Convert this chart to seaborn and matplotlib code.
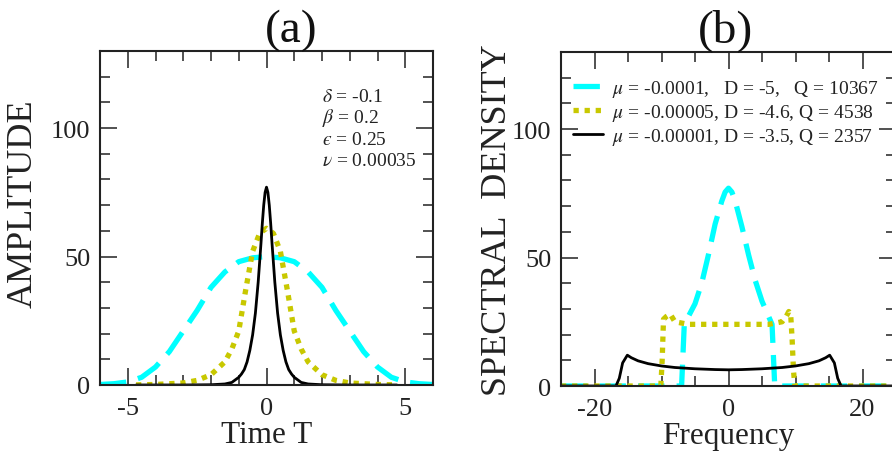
import numpy as np
import pandas as pd
import matplotlib
matplotlib.use("Agg")
import matplotlib.pyplot as plt
import seaborn as sns

# ---------------- data ----------------
# Panel (a): amplitude vs time
t_cyan = [-6, -5.5, -5, -4.5, -4, -3.5, -3, -2.5, -2, -1.5, -1, -0.5, 0,
          0.5, 1, 1.5, 2, 2.5, 3, 3.5, 4, 4.5, 5, 5.5, 6]
a_cyan = [0.2, 0.5, 1.2, 3, 7, 13, 21, 29, 38, 44, 48, 49.5, 50,
          49.5, 48, 44, 38, 29, 21, 13, 7, 3, 1.2, 0.5, 0.2]

t_yel = [-4.7, -4, -3, -2.5, -2, -1.5, -1.25, -1, -0.75, -0.5, -0.25, 0,
         0.25, 0.5, 0.75, 1, 1.25, 1.5, 2, 2.5, 3, 4, 4.7]
a_yel = [0.05, 0.2, 0.8, 1.8, 4, 9, 14, 21, 37, 52, 59, 61,
         59, 52, 37, 21, 14, 9, 4, 1.8, 0.8, 0.2, 0.05]

t_blk = [-4.7, -3, -2, -1.5, -1.25, -1, -0.9, -0.8, -0.7, -0.6, -0.5, -0.4, -0.3,
         -0.2, -0.15, -0.1, -0.05, 0,
         0.05, 0.1, 0.15, 0.2, 0.3, 0.4, 0.5, 0.6, 0.7, 0.8, 0.9, 1, 1.25, 1.5, 2, 3, 4.7]
a_blk = [0, 0, 0.1, 0.4, 1, 3, 4.3, 6, 9, 13.5, 19.5, 28, 40,
         55, 63, 70, 75, 77,
         75, 70, 63, 55, 40, 28, 19.5, 13.5, 9, 6, 4.3, 3, 1, 0.4, 0.1, 0, 0]

# Panel (b): spectral density vs frequency
f_cyan = [-25, -7.0, -6.8, -6.6, -6, -5, -4, -3, -2, -1, -0.5, 0,
          0.5, 1, 2, 3, 4, 5, 6, 6.5, 6.7, 6.9, 25]
s_cyan = [0, 0, 12, 24, 27, 32, 40, 51, 63, 72, 75.5, 77,
          75.5, 72, 62, 51, 41, 33, 27, 24, 12, 0, 0]

f_yel = [-25, -10.1, -9.9, -9.7, -9.3, -8.7, -8, -6, -3, 0,
         3, 6, 8, 8.6, 9.0, 9.3, 9.5, 9.7, 9.9, 25]
s_yel = [0, 0, 10, 26, 27, 28, 25, 24, 24, 24,
         24, 24, 25, 27, 29, 27, 18, 6, 0, 0]

f_blk = [-25, -16.8, -16.3, -15.8, -15.1, -14.5, -13.5, -12, -10, -8, -5, -2, 0,
         2, 5, 8, 10, 12, 13.5, 14.5, 15.1, 15.8, 16.3, 16.8, 25]
s_blk = [0, 0, 3, 9, 12, 11, 9.8, 8.7, 7.8, 7.2, 6.7, 6.4, 6.3,
         6.4, 6.7, 7.2, 7.8, 8.7, 9.8, 11, 12, 9, 3, 0, 0]

legend_labels = [r"$\mu$ = -0.0001,   D = -5,   Q = 10367",
                 r"$\mu$ = -0.00005, D = -4.6, Q = 4538",
                 r"$\mu$ = -0.00001, D = -3.5, Q = 2357"]
params = [r"$\delta$ = -0.1", r"$\beta$ = 0.2", "$\u03f5$ = 0.25", r"$\nu$ = 0.00035"]

# ---------------- style ----------------
sns.set_theme(style="ticks")
plt.rcParams["font.family"] = ["Liberation Serif", "DejaVu Serif"]
plt.rcParams["mathtext.fontset"] = "stix"
plt.rcParams["axes.unicode_minus"] = False

CYAN = "#00ffff"
YEL = "#c8c800"
BLK = "#000000"
INK = "#222222"

W, H = 892, 452
fig = plt.figure(figsize=(W / 100, H / 100), dpi=100)
fig.patch.set_facecolor("white")

def px_axes(x0, y0, x1, y1):
    return fig.add_axes([x0 / W, 1 - y1 / H, (x1 - x0) / W, (y1 - y0) / H])

axA = px_axes(100, 52, 433, 386)
axB = px_axes(561, 53, 896, 387)

lw_thick = 3.8
cyan_ls = (0, (5.0, 2.3))
yel_ls = (0, (1.0, 1.1))

def draw(ax, x, y, color, ls, lw, label=None):
    df = pd.DataFrame({"x": x, "y": y})
    sns.lineplot(data=df, x="x", y="y", ax=ax, color=color, linestyle=ls,
                 linewidth=lw, estimator=None, sort=False, label=label,
                 legend=False)

draw(axA, t_cyan, a_cyan, CYAN, cyan_ls, lw_thick)
draw(axA, t_yel, a_yel, YEL, yel_ls, lw_thick)
draw(axA, t_blk, a_blk, BLK, "-", 2.0)

draw(axB, f_cyan, s_cyan, CYAN, cyan_ls, lw_thick, legend_labels[0])
draw(axB, f_yel, s_yel, YEL, yel_ls, lw_thick, legend_labels[1])
draw(axB, f_blk, s_blk, BLK, "-", 2.0, legend_labels[2])

for ax in (axA, axB):
    ax.set_ylim(0, 130)
    ax.yaxis.set_major_locator(matplotlib.ticker.MultipleLocator(50))
    ax.yaxis.set_minor_locator(matplotlib.ticker.MultipleLocator(10))
    ax.tick_params(which="both", direction="in", top=True, right=True,
                   width=1.1, color=INK, labelsize=19, labelcolor=INK)
    ax.tick_params(which="major", length=12)
    ax.tick_params(which="minor", length=7)
    ax.tick_params(axis="x", which="major", pad=9)
    ax.tick_params(axis="y", which="major", pad=7)
    for s in ax.spines.values():
        s.set_linewidth(1.5)
        s.set_color(INK)
    ax.set_facecolor("white")

axA.set_xlim(-6, 6)
axA.xaxis.set_major_locator(matplotlib.ticker.MultipleLocator(5))
axA.xaxis.set_minor_locator(matplotlib.ticker.MultipleLocator(1))
axB.set_xlim(-25, 25)
axB.xaxis.set_major_locator(matplotlib.ticker.MultipleLocator(20))
axB.xaxis.set_minor_locator(matplotlib.ticker.MultipleLocator(5))

axA.set_xlabel("Time T", fontsize=22.5, color=INK)
axA.set_ylabel("AMPLITUDE", fontsize=26, color=INK)
axB.set_xlabel("Frequency", fontsize=22.5, color=INK)
axB.set_ylabel("SPECTRAL  DENSITY", fontsize=26, color=INK)
axA.xaxis.set_label_coords(0.5, -0.105)
axB.xaxis.set_label_coords(0.5, -0.105)
axA.yaxis.set_label_coords(-0.18, 0.545)
axB.yaxis.set_label_coords(-0.14, 0.5)

fig.text(291 / W, 1 - 42 / H, "(a)", fontsize=34, ha="center", va="baseline", color="#111111")
fig.text(726 / W, 1 - 42 / H, "(b)", fontsize=34, ha="center", va="baseline", color="#111111")

for i, s in enumerate(params):
    axA.text(0.667, 0.85 - i * 0.064, s, transform=axA.transAxes, fontsize=14,
             ha="left", va="baseline", color=INK)

leg = axB.legend(loc="upper left", bbox_to_anchor=(0.035, 0.922), frameon=False,
                 fontsize=14, handlelength=1.55, handletextpad=0.45,
                 labelspacing=0.15, borderaxespad=0, borderpad=0)
for t in leg.get_texts():
    t.set_color(INK)

fig.savefig("out.png", dpi=100, facecolor="white")
